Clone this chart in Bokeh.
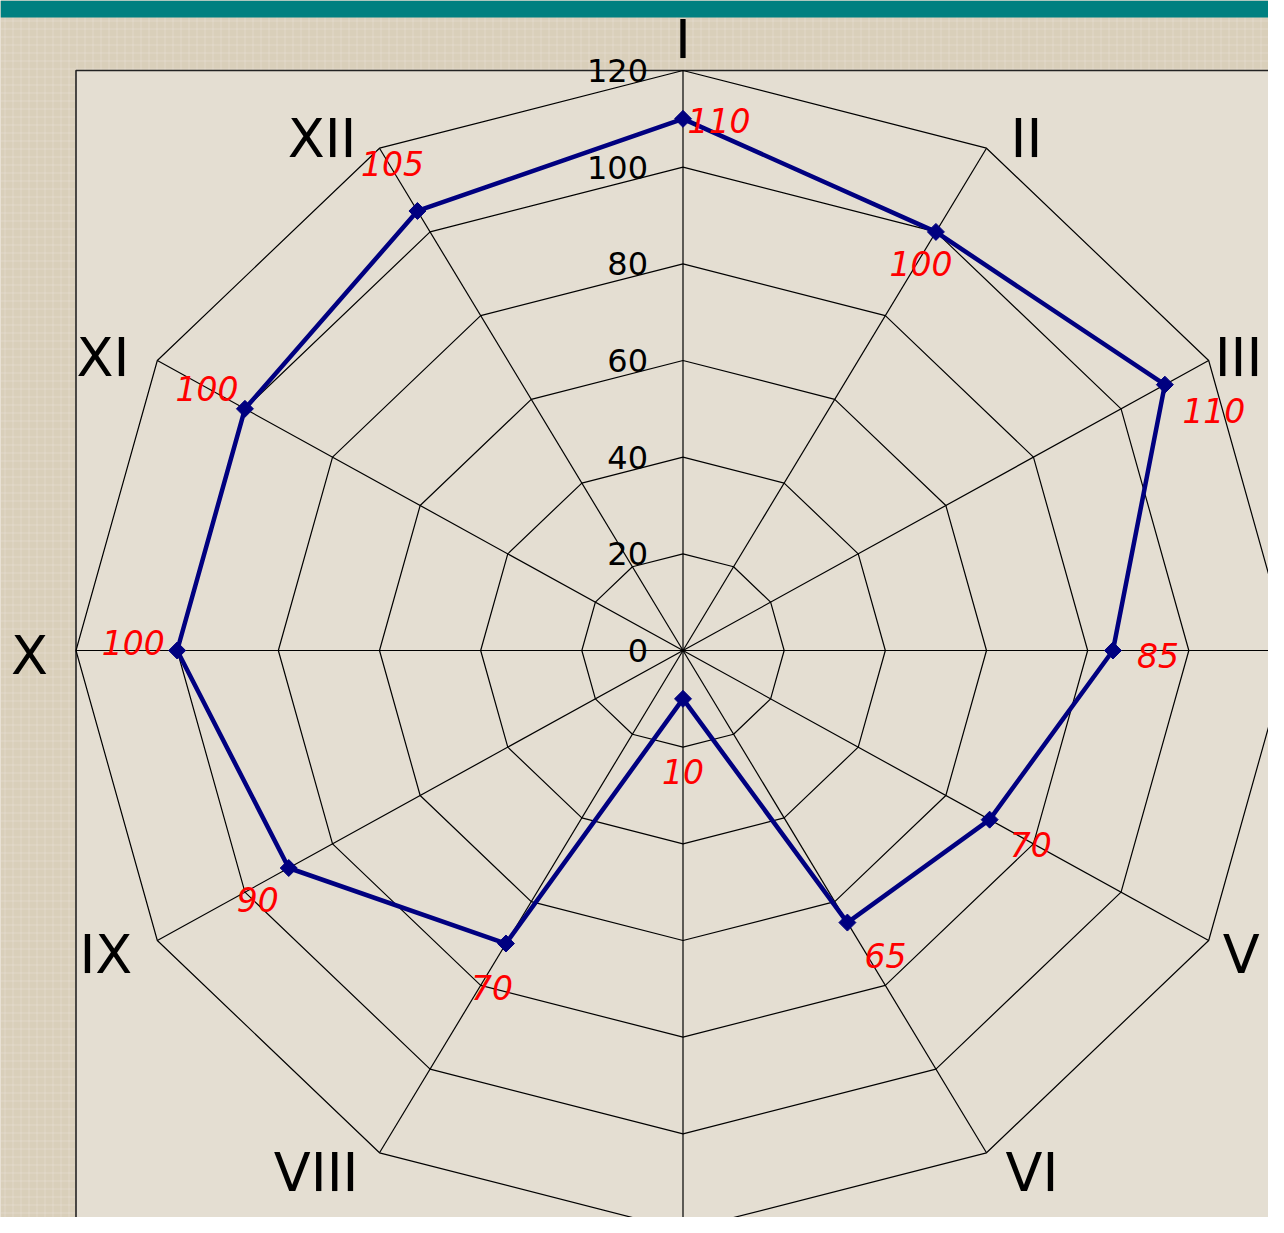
import numpy as np
from bokeh.plotting import figure
from bokeh.models import ColumnDataSource, Range1d
from bokeh.core.properties import value
from bokeh.embed import file_html
from bokeh.resources import INLINE

# ---------------- data ----------------
categories = ["I", "II", "III", "IV", "V", "VI", "VII", "VIII", "IX", "X", "XI", "XII"]
values = [110, 100, 110, 85, 70, 65, 10, 70, 90, 100, 100, 105]
ticks = [0, 20, 40, 60, 80, 100, 120]
r_max = 120

# ---------------- styles / layout ----------------
# pixel offsets of the red value labels relative to their points
val_dx = [36, -15, 49, 45, 41, 38, 0, -14, -31, -44, -38, -25]
val_dy = [2, 32, 26, 5, 25, 33, 73, 44, 31, -8, -20, -47]
# horizontal gap (px) between outer vertex and category label
cat_gap = [0, 24, 6, 24, 14, 19, 0, 21, 25, 28, 28, 23]

OUTER = "#D9CFBA"
INNER = "#E4DED2"
TEAL = "#008080"
NAVY = "#000080"

W, H = 1268, 1217
sx = 607 / 120.0   # px per unit horizontally
sy = 580 / 120.0   # px per unit vertically
cx, cy = 682.5, 650.0  # centre in figure pixels

xr = Range1d(-cx / sx, (W - cx) / sx)
yr = Range1d(-(H - cy) / sy, cy / sy)

p = figure(width=W, height=H, x_range=xr, y_range=yr,
           output_backend="svg", toolbar_location=None, min_border=0,
           x_axis_location=None, y_axis_location=None)
p.grid.visible = False
p.outline_line_color = None
p.background_fill_color = OUTER
p.border_fill_color = OUTER

# textured outer background
p.quad(left=xr.start, right=xr.end, top=yr.end, bottom=yr.start,
       fill_color=OUTER, line_color=None,
       hatch_pattern="+", hatch_color="#F1ECE1", hatch_alpha=0.35,
       hatch_scale=8, hatch_weight=1)

# plot area frame
p.quad(left=-r_max, right=r_max, top=r_max, bottom=-r_max,
       fill_color=INNER, line_color="#222222", line_width=1.6)

n = len(categories)
theta = np.pi / 2 - np.arange(n) * 2 * np.pi / n
cos_t, sin_t = np.cos(theta), np.sin(theta)

# grid polygons
gx, gy = [], []
for t in ticks[1:]:
    gx.append(list(np.append(t * cos_t, t * cos_t[0])))
    gy.append(list(np.append(t * sin_t, t * sin_t[0])))
p.multi_line(gx, gy, line_color="black", line_width=1.2)

# spokes
sxs = [[0, r_max * c] for c in cos_t]
sys_ = [[0, r_max * s] for s in sin_t]
p.multi_line(sxs, sys_, line_color="black", line_width=1.2)

# tick labels
p.text(x=[0] * len(ticks), y=ticks, text=[str(t) for t in ticks],
       x_offset=-35, y_offset=0, text_align="right", text_baseline="middle",
       text_font=value("DejaVu Sans"), text_font_size="32px", text_color="black")

# data series
vals = np.array(values, dtype=float)
dx = vals * cos_t
dy = vals * sin_t
p.line(list(np.append(dx, dx[0])), list(np.append(dy, dy[0])),
       line_color=NAVY, line_width=4.5, line_join="round")
p.scatter(dx, dy, marker="square", size=12, angle=np.pi / 4,
          fill_color=NAVY, line_color=NAVY)

# value labels
vsrc = ColumnDataSource(dict(x=dx, y=dy, text=[str(v) for v in values],
                             xo=val_dx, yo=val_dy))
p.text(x="x", y="y", text="text", x_offset="xo", y_offset="yo", source=vsrc,
       text_align="center", text_baseline="middle",
       text_font=value("DejaVu Sans"), text_font_style="italic",
       text_font_size="33px", text_color="#FF0000")

# teal title bar
p.quad(left=xr.start, right=xr.end, top=yr.end, bottom=(cy - 17) / sy,
       fill_color=TEAL, line_color=None)

# category labels (only those whose anchor falls inside the visible page)
lx, ly, lt, aligns, xo, yo = [], [], [], [], [], []
for c, s, g, name in zip(cos_t, sin_t, cat_gap, categories):
    if abs(c) < 1e-6:
        al, ox, oy = "center", 0, (-31 if s > 0 else 62)
    else:
        al = "left" if c > 0 else "right"
        ox = g if c > 0 else -g
        oy = 5 - 17 * s
    px = cx + r_max * c * sx + ox
    py = cy - r_max * s * sy + oy
    if not (0 <= px <= W - 20 and 0 <= py <= H - 20):
        continue
    lx.append(r_max * c)
    ly.append(r_max * s)
    lt.append(name)
    aligns.append(al)
    xo.append(ox)
    yo.append(oy)
csrc = ColumnDataSource(dict(x=lx, y=ly, text=lt, al=aligns, xo=xo, yo=yo))
p.text(x="x", y="y", text="text", x_offset="xo", y_offset="yo",
       text_align="al", text_baseline="middle", source=csrc,
       text_font=value("DejaVu Sans"), text_font_size="54px", text_color="black")

open("out.html", "w").write(file_html(p, INLINE))
